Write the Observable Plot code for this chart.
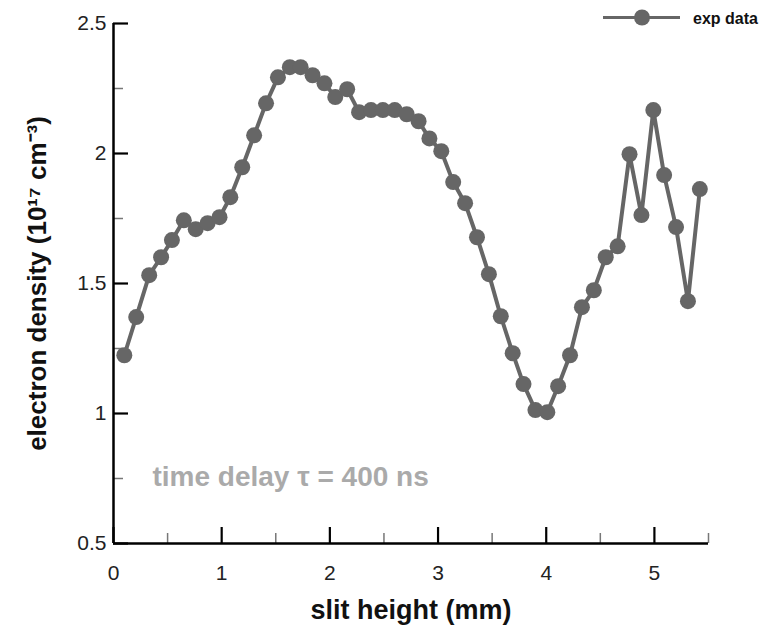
<!DOCTYPE html>
<html><head><meta charset="utf-8">
<script src="https://cdn.jsdelivr.net/npm/d3@7"></script>
<script src="https://cdn.jsdelivr.net/npm/@observablehq/plot@0.6"></script>
<style>
body{margin:0;background:#fff}
#wrap{position:relative;width:761px;height:626px;font-family:"Liberation Sans",Arial,sans-serif}
#legend{position:absolute;left:590px;top:0px}
</style></head><body><div id="wrap"></div>
<script>
const slitHeight = [0.10,0.21,0.33,0.44,0.54,0.65,0.76,0.87,0.98,1.08,1.19,1.30,1.41,1.52,1.63,1.73,1.84,1.95,2.05,2.16,2.27,2.38,2.49,2.60,2.71,2.82,2.92,3.03,3.14,3.25,3.36,3.47,3.58,3.69,3.79,3.90,4.01,4.11,4.22,4.33,4.44,4.55,4.66,4.77,4.88,4.99,5.09,5.20,5.31,5.42];
const density = [1.224,1.371,1.532,1.601,1.667,1.743,1.709,1.732,1.755,1.832,1.947,2.070,2.193,2.293,2.332,2.332,2.301,2.270,2.217,2.247,2.159,2.167,2.167,2.167,2.151,2.124,2.058,2.009,1.890,1.809,1.678,1.536,1.374,1.232,1.113,1.013,1.005,1.105,1.224,1.409,1.474,1.601,1.643,1.997,1.763,2.167,1.917,1.717,1.432,1.863];
const xMajorTicks = [0,1,2,3,4,5];
const xMinorTicks = [0.5,1.5,2.5,3.5,4.5,5.5];
const yMajorTicks = [0.5,1,1.5,2,2.5];
const yMinorTicks = [0.75,1.25,1.75,2.25];
const xLabel = "slit height (mm)";
const yLabel = "electron density (10¹⁷ cm⁻³)";
const annotationText = "time delay τ = 400 ns";
const annotationPos = {x: 0.36, y: 0.755};
const seriesName = "exp data";

const data = slitHeight.map((x, i) => ({x, y: density[i]}));
const color = "#666666";
const font = "Liberation Sans, Arial, sans-serif";
const fmt = d => String(d);

const chart = Plot.plot({
  width: 761, height: 626,
  marginLeft: 113, marginRight: 53, marginTop: 23, marginBottom: 83,
  style: {fontFamily: font, background: "white", overflow: "visible"},
  x: {domain: [0, 5.5], label: null},
  y: {domain: [0.5, 2.5], label: null},
  marks: [
    Plot.axisX(xMinorTicks, {tickSize: -10, stroke: "#777", strokeWidth: 1.5, fill: "none", label: null}),
    Plot.axisX(xMajorTicks, {tickSize: -16, stroke: "black", strokeWidth: 2.2, fill: "none", label: null}),
    Plot.axisX(xMajorTicks, {tickSize: 0, tickPadding: 22, fontSize: 21, fill: "#222", tickFormat: fmt, label: null}),
    Plot.axisY(yMinorTicks, {tickSize: -10, stroke: "#777", strokeWidth: 1.5, fill: "none", label: null}),
    Plot.axisY(yMajorTicks, {tickSize: -15, stroke: "black", strokeWidth: 2.2, fill: "none", label: null}),
    Plot.axisY(yMajorTicks, {tickSize: 0, tickPadding: 7, fontSize: 21, fill: "#222", tickFormat: fmt, label: null}),
    Plot.ruleY([0.5], {stroke: "black", strokeWidth: 2.5}),
    Plot.ruleX([0], {stroke: "black", strokeWidth: 2.5}),
    Plot.line(data, {x: "x", y: "y", stroke: color, strokeWidth: 4}),
    Plot.dot(data, {x: "x", y: "y", r: 8, fill: color, stroke: "none"}),
    Plot.text([annotationPos], {x: "x", y: "y", text: () => annotationText, textAnchor: "start", lineAnchor: "middle", fontSize: 28, fontWeight: "bold", fill: "#aaaaaa"}),
    Plot.text([xLabel], {text: d => d, frameAnchor: "bottom", dy: 67, textAnchor: "middle", lineAnchor: "middle", fontSize: 27, fontWeight: "bold", fill: "#111"}),
    Plot.text([yLabel], {text: d => d, frameAnchor: "left", dx: -76, rotate: -90, textAnchor: "middle", lineAnchor: "middle", fontSize: 26, fontWeight: "bold", fill: "#111"})
  ]
});

const wrap = document.getElementById("wrap");
wrap.appendChild(chart);

// legend
const ns = "http://www.w3.org/2000/svg";
const leg = document.createElementNS(ns, "svg");
leg.setAttribute("id", "legend");
leg.setAttribute("width", 171);
leg.setAttribute("height", 40);
leg.innerHTML = `<line x1="13" x2="90" y1="17.5" y2="17.5" stroke="${color}" stroke-width="3"/>
<circle cx="52" cy="17.5" r="8" fill="${color}"/>
<text x="103" y="24" font-family="${font}" font-weight="bold" font-size="16" fill="#111">${seriesName}</text>`;
wrap.appendChild(leg);
</script>
</body></html>
